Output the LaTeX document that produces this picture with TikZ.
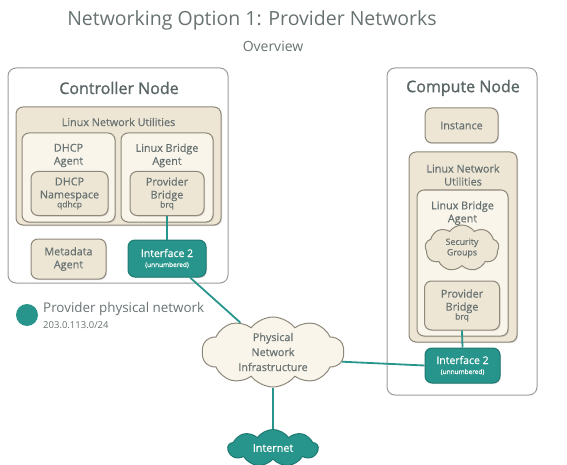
\documentclass[tikz,border=0pt]{standalone}
\usepackage{fontspec}
\setmainfont{Open Sans}
\newfontfamily\medf{Open Sans}[FakeBold=0.6]
\newfontfamily\semif{Open Sans}[FakeBold=1.2]
\usetikzlibrary{shapes.symbols,shadows}
\definecolor{tealA}{HTML}{27958B}
\definecolor{tealB}{HTML}{1D7A72}
\definecolor{creamA}{HTML}{EEE6D4}
\definecolor{creamB}{HTML}{FAF5EA}
\definecolor{brdA}{HTML}{8E887B}
\definecolor{hostbrd}{HTML}{9A9C9C}
\definecolor{txtA}{HTML}{687272}
\definecolor{txtB}{HTML}{5A6666}
\tikzset{
  hostbox/.style={draw=hostbrd, fill=white, line width=1pt, rounded corners=8pt, inner sep=0pt},
  cbox/.style={draw=brdA, fill=creamA, line width=1pt, rounded corners=7pt, inner sep=0pt,
     drop shadow={opacity=0.25, shadow xshift=1pt, shadow yshift=-1pt}},
  abox/.style={cbox, fill=creamB},
  ibox/.style={draw=tealB, fill=tealA, line width=1pt, rounded corners=7pt, inner sep=0pt, text=white,
     align=center, font=\medf\fontsize{10.5}{12}\selectfont,
     drop shadow={opacity=0.25, shadow xshift=1pt, shadow yshift=-1pt}},
  lbl/.style={text=txtA, align=center, font=\medf\fontsize{10.8}{13}\selectfont, inner sep=0pt},
  boxtxt/.style={text=txtA, align=center, font=\medf\fontsize{10.8}{13}\selectfont},
  hosttitle/.style={text=txtB, font=\semif\fontsize{16}{18}\selectfont, inner sep=0pt},
  link/.style={draw=tealA, line width=1.8pt},
  cloudy/.style={cloud, cloud ignores aspect, draw=brdA, fill=creamB, line width=1pt, inner sep=0pt,
     align=center, text=txtA},
}
\newcommand{\smalltxt}[1]{{\fontsize{8.5}{9}\selectfont #1}}
\newcommand{\tinytxt}[1]{{\fontsize{6.5}{7}\selectfont #1}}
\begin{document}
\begin{tikzpicture}[x=1pt,y=-1pt]
\useasboundingbox (0,0) rectangle (567,465);

% titles
\node[text=txtA, font=\fontsize{19.5}{22}\selectfont, inner sep=0pt] (title) at (252,20) {Networking Option 1: Provider Networks};
\node[text=txtA, font=\fontsize{14}{16}\selectfont, inner sep=0pt] (overview) at (273,46) {Overview};

% controller node
\node[hostbox, minimum width=220, minimum height=215] (ctrl) at (118,175.5) {};
\node[hosttitle] (ctrltitle) at (119,88) {Controller Node};
\node[cbox, minimum width=205, minimum height=118] (lnuc) at (118.5,166) {};
\node[lbl] (lnuclbl) at (118.5,122) {Linux Network Utilities};
\node[abox, minimum width=93, minimum height=89] (dhcpa) at (68.5,177.5) {};
\node[lbl] (dhcpalbl) at (68.5,155.5) {DHCP\\Agent};
\node[cbox, minimum width=77, minimum height=44, boxtxt] (dhcpns) at (69.5,193.5) {DHCP\\Namespace\\[-4pt]\smalltxt{qdhcp}};
\node[abox, minimum width=92, minimum height=89] (lbac) at (167,177.5) {};
\node[lbl] (lbaclbl) at (167,155.5) {Linux Bridge\\Agent};
\node[cbox, minimum width=74, minimum height=44, boxtxt] (pbc) at (167,193.5) {Provider\\Bridge\\[-4pt]\smalltxt{brq}};
\node[cbox, minimum width=75, minimum height=40, boxtxt] (meta) at (68.5,259) {Metadata\\Agent};
\node[ibox, minimum width=78, minimum height=37] (ifc) at (167,258.5) {Interface 2\\[-2pt]\tinytxt{(unnumbered)}};

% compute node
\node[hostbox, minimum width=150, minimum height=327] (comp) at (462,231.5) {};
\node[hosttitle] (comptitle) at (463,88) {Compute Node};
\node[cbox, minimum width=73, minimum height=35, boxtxt] (inst) at (461.5,125.5) {Instance};
\node[cbox, minimum width=108, minimum height=190] (lnucp) at (463,247) {};
\node[lbl] (lnucplbl) at (463,175) {Linux Network\\Utilities};
\node[abox, minimum width=91, minimum height=146] (lbacp) at (462.5,263) {};
\node[lbl] (lbacplbl) at (462.5,213) {Linux Bridge\\Agent};
\node[cloudy, cloud puffs=9, cloud puff arc=110, minimum width=74, minimum height=46, fill=creamA,
      font=\medf\fontsize{8.8}{10.5}\selectfont] (secg) at (462,248) {Security\\Groups};
\node[cbox, minimum width=75, minimum height=49, boxtxt] (pbcp) at (462,305.5) {Provider\\Bridge\\[-4pt]\smalltxt{brq}};
\node[ibox, minimum width=75, minimum height=35] (ifcp) at (462.5,365.5) {Interface 2\\[-2pt]\tinytxt{(unnumbered)}};

% physical network and internet
\node[cloudy, cloud puffs=10, cloud puff arc=105, minimum width=142, minimum height=70,
      font=\medf\fontsize{10.8}{15}\selectfont] (phys) at (273,352) {Physical\\Network\\Infrastructure};
\node[cloud, cloud ignores aspect, cloud puffs=9, cloud puff arc=110, draw=tealB, fill=tealA, line width=1pt,
      minimum width=90, minimum height=37, inner sep=0pt, text=white,
      font=\medf\fontsize{10.8}{12}\selectfont] (inet) at (273,448) {Internet};

% legend
\node[circle, fill=tealA, minimum size=22, inner sep=0pt] (legdot) at (27,315) {};
\node[anchor=west, text=txtA, font=\fontsize{13.4}{15}\selectfont, inner sep=0pt] (legtxt) at (43,309) {Provider physical network};
\node[anchor=west, text=txtA, font=\fontsize{9.5}{11}\selectfont, inner sep=0pt] (legnet) at (43,325) {203.0.113.0/24};

% links
\draw[link] (pbc.south) -- (ifc.north);
\draw[link] (pbcp.south) -- (ifcp.north);
\draw[link] ([xshift=23pt]ifc.south) -- (phys.138);
\draw[link] (phys.-8) -- (ifcp.west);
\draw[link] (phys.south) -- (inet.north);
\end{tikzpicture}
\end{document}
